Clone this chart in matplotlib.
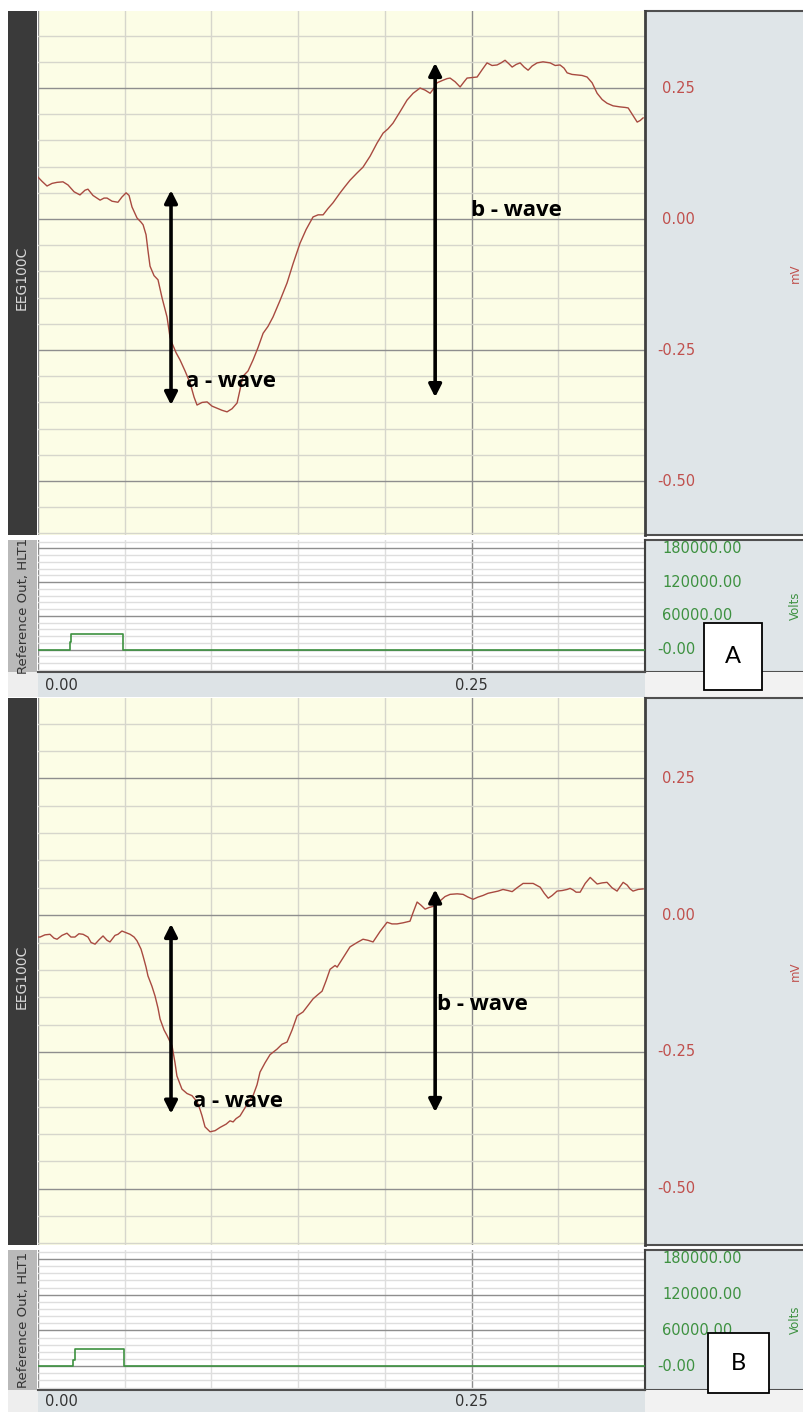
import matplotlib
matplotlib.use("Agg")
import matplotlib.pyplot as plt
from matplotlib.ticker import MultipleLocator, FixedLocator
from matplotlib.patches import Rectangle
from matplotlib.transforms import blended_transform_factory

# ---------------- data (time in ms, ERG in mV, stimulus in arbitrary units) -------------
time_a_ms = [0, 2.3, 5.2, 8.1, 11.0, 14.4, 17.3, 20.8, 24.2, 27.1, 28.8, 31.7, 35.8, 38.1,
             39.8, 42.7, 46.1, 48.4, 50.8, 52.5, 54.2, 57.1, 59.4, 60.6, 62.3, 63.4, 64.6,
             66.9, 69.2, 71.5, 74.4, 76.1, 77.3, 79.6, 81.9, 84.8, 87.7, 90.0, 91.7, 94.6,
             97.5, 100.3, 103.2, 106.1, 109.0, 111.9, 114.8, 116.5, 118.2, 121.1, 124.0,
             126.9, 129.8, 132.6, 135.5, 139.6, 143.6, 147.1, 151.1, 154.6, 158.6, 161.5,
             164.4, 167.2, 170.1, 174.2, 177.0, 179.9, 184.0, 187.4, 191.5, 195.5, 199.0,
             201.8, 204.7, 208.8, 212.8, 216.3, 220.3, 223.2, 226.1, 228.4, 230.1, 233.6,
             235.9, 237.6, 240.5, 243.4, 245.7, 247.4, 250.3, 253.2, 256.1, 258.9, 261.8,
             264.7, 267.0, 269.3, 271.6, 273.4, 275.7, 278.0, 280.3, 282.6, 284.9, 287.8,
             291.2, 295.3, 298.2, 301.0, 303.3, 305.1, 307.9, 310.8, 313.7, 316.6, 319.5,
             322.4, 325.3, 328.1, 331.6, 335.6, 338.5, 340.3, 342.6, 345.5, 347.2, 348.9]
erg_a_mv = [0.080, 0.072, 0.063, 0.068, 0.070, 0.071, 0.065, 0.052, 0.046, 0.055, 0.057,
            0.045, 0.036, 0.040, 0.040, 0.034, 0.032, 0.042, 0.050, 0.045, 0.023, 0.002,
            -0.006, -0.011, -0.030, -0.060, -0.090, -0.108, -0.116, -0.150, -0.187, -0.225,
            -0.237, -0.255, -0.269, -0.290, -0.313, -0.340, -0.355, -0.350, -0.349, -0.357,
            -0.361, -0.365, -0.368, -0.362, -0.351, -0.325, -0.300, -0.290, -0.269, -0.245,
            -0.218, -0.205, -0.187, -0.155, -0.122, -0.085, -0.046, -0.020, 0.004, 0.008,
            0.008, 0.020, 0.031, 0.050, 0.062, 0.074, 0.088, 0.099, 0.120, 0.145, 0.164,
            0.172, 0.183, 0.205, 0.227, 0.240, 0.250, 0.246, 0.240, 0.250, 0.260, 0.265,
            0.268, 0.269, 0.262, 0.252, 0.262, 0.269, 0.270, 0.271, 0.285, 0.298, 0.293,
            0.294, 0.298, 0.303, 0.296, 0.290, 0.295, 0.298, 0.290, 0.284, 0.292, 0.298,
            0.300, 0.298, 0.293, 0.294, 0.288, 0.279, 0.276, 0.275, 0.274, 0.271, 0.260,
            0.240, 0.228, 0.221, 0.216, 0.214, 0.213, 0.212, 0.200, 0.185, 0.188, 0.193]

time_b_ms = [0, 1.2, 4.0, 6.9, 9.2, 11.0, 13.8, 16.7, 19.0, 21.3, 23.6, 26.0, 28.8, 30.6,
             32.9, 35.2, 37.5, 39.8, 41.5, 44.4, 46.1, 48.4, 50.8, 53.1, 55.4, 57.1, 59.4,
             60.6, 62.3, 63.4, 65.7, 67.5, 69.2, 70.4, 72.7, 74.4, 77.3, 79.0, 80.1, 83.0,
             85.9, 88.8, 91.7, 93.4, 94.6, 96.3, 99.2, 102.1, 105.0, 108.5, 110.7, 112.5,
             114.2, 116.5, 119.4, 121.7, 124.0, 126.3, 128.0, 130.9, 133.8, 137.8, 140.7,
             143.6, 146.5, 149.4, 152.8, 155.7, 158.6, 161.5, 163.8, 166.1, 168.4, 171.3,
             172.5, 176.5, 179.9, 184.0, 187.4, 190.3, 193.2, 197.2, 201.3, 204.1, 207.0,
             210.5, 214.5, 216.3, 218.6, 220.9, 223.2, 225.5, 227.8, 230.1, 231.8, 234.7,
             237.6, 241.7, 245.1, 248.0, 250.9, 253.7, 256.6, 259.5, 262.4, 265.3, 268.1,
             271.0, 273.4, 276.2, 279.7, 282.6, 285.5, 287.8, 289.6, 291.9, 294.2, 296.5,
             299.3, 302.2, 305.1, 306.8, 308.6, 310.3, 312.6, 315.5, 318.4, 320.7, 322.4,
             325.3, 328.1, 331.0, 333.9, 335.6, 337.4, 339.7, 341.4, 343.1, 346.0, 348.9]
erg_b_mv = [-0.040, -0.040, -0.036, -0.035, -0.042, -0.044, -0.037, -0.033, -0.040, -0.040,
            -0.034, -0.035, -0.040, -0.050, -0.053, -0.045, -0.038, -0.046, -0.049, -0.037,
            -0.035, -0.029, -0.032, -0.035, -0.040, -0.047, -0.062, -0.075, -0.095, -0.111,
            -0.130, -0.148, -0.170, -0.190, -0.210, -0.220, -0.239, -0.270, -0.294, -0.318,
            -0.326, -0.330, -0.341, -0.355, -0.367, -0.387, -0.396, -0.394, -0.388, -0.382,
            -0.376, -0.378, -0.372, -0.367, -0.352, -0.340, -0.330, -0.310, -0.287, -0.270,
            -0.255, -0.245, -0.236, -0.232, -0.210, -0.184, -0.177, -0.165, -0.153, -0.145,
            -0.139, -0.120, -0.099, -0.092, -0.095, -0.075, -0.058, -0.050, -0.044, -0.046,
            -0.049, -0.030, -0.013, -0.016, -0.016, -0.014, -0.011, 0.005, 0.024, 0.018,
            0.011, 0.014, 0.016, 0.022, 0.026, 0.034, 0.038, 0.039, 0.038, 0.033, 0.029,
            0.033, 0.036, 0.040, 0.042, 0.044, 0.047, 0.045, 0.043, 0.050, 0.058, 0.058,
            0.058, 0.054, 0.051, 0.040, 0.031, 0.036, 0.044, 0.045, 0.047, 0.049, 0.046,
            0.042, 0.042, 0.058, 0.069, 0.062, 0.057, 0.059, 0.060, 0.050, 0.044, 0.052,
            0.060, 0.055, 0.048, 0.044, 0.047, 0.048]

stim_a_ms = [0, 18.5, 19.3, 49.0, 350]
stim_a_val = [0, 14000, 28000, 0, 0]
stim_b_ms = [0, 20.2, 21.3, 49.6, 350]
stim_b_val = [0, 10000, 28000, 0, 0]

erg_ticks = [-0.50, -0.25, 0.00, 0.25]
erg_tick_labels = ["-0.50", "-0.25", "0.00", "0.25"]
stim_ticks = [0, 60000, 120000, 180000]
stim_tick_labels = ["-0.00", "60000.00", "120000.00", "180000.00"]
x_ticks = [0.0, 0.25]
x_tick_labels = ["0.00", "0.25"]
channel_label = "EEG100C"
stim_label = "Reference Out, HLT1"
panel_names = ["A", "B"]

# ---------------- layout helpers -------------
W, H = 804, 1412
fig = plt.figure(figsize=(W / 100, H / 100), dpi=100)
fig.patch.set_facecolor("white")


def frect(x0, y0, x1, y1):
    return [x0 / W, 1 - y1 / H, (x1 - x0) / W, (y1 - y0) / H]


def bg(x0, y0, x1, y1, color, z=-1, ec="none", lw=0):
    fig.patches.append(Rectangle((x0 / W, 1 - y1 / H), (x1 - x0) / W, (y1 - y0) / H,
                                 transform=fig.transFigure, facecolor=color,
                                 edgecolor=ec, linewidth=lw, zorder=z))


def right_labels(axis, ticks, labels, color):
    tr = blended_transform_factory(axis.transAxes, axis.transData)
    for val, lab in zip(ticks, labels):
        off = 12 if lab.startswith("-") else 17
        axis.text(1 + off / 607, val, lab, transform=tr, ha="left", va="center",
                  color=color, fontsize=10.5, clip_on=False, family="DejaVu Sans")


PLOT_BG = "#fcfde6"
RIGHT_BG = "#dfe5e8"
STRIP_BG = "#dde3e6"
LIGHT = "#eeeeee"
RED = "#c0504d"
GREEN = "#3d9140"
TRACE = "#a84a40"
MINOR = "#d6d6cc"
MAJOR = "#8e8e8e"

panels = [
    dict(top=11, mid=535, sub0=540, sub1=672, strip1=697,
         t=time_a_ms, v=erg_a_mv, st=stim_a_ms, sv=stim_a_val,
         a_arrow=(0.0767, 0.055, -0.355), a_text=(0.0854, -0.311),
         b_arrow=(0.229, 0.298, -0.340), b_text=(0.2497, 0.017),
         box=(704, 623, 762, 690)),
    dict(top=698, mid=1245, sub0=1250, sub1=1390, strip1=1412,
         t=time_b_ms, v=erg_b_mv, st=stim_b_ms, sv=stim_b_val,
         a_arrow=(0.0767, -0.016, -0.363), a_text=(0.0894, -0.341),
         b_arrow=(0.229, 0.047, -0.360), b_text=(0.2300, -0.164),
         box=(708, 1333, 769, 1393)),
]

for i, p in enumerate(panels):
    top, mid, s0, s1, st1 = p["top"], p["mid"], p["sub0"], p["sub1"], p["strip1"]

    # background pieces
    bg(8, top, 37, mid, "#3a3a3a")
    bg(645, top, 806, mid, RIGHT_BG, ec="#505050", lw=1.5)
    bg(645, s0, 806, s1, RIGHT_BG, ec="#505050", lw=1.5)
    bg(8, s1, 38, st1, LIGHT)
    bg(38, s1, 645, st1, STRIP_BG)
    bg(645, s1, 806, st1, "#f2f2f2")

    # channel label in dark bar
    fig.text(22 / W, 1 - ((top + mid) / 2 + 5) / H, channel_label, rotation=90,
             ha="center", va="center", color="#d8d8d8", fontsize=10,
             family=["Liberation Sans Narrow", "DejaVu Sans"])

    # stimulus label bar
    axl = fig.add_axes(frect(8, s0, 37, s1))
    axl.set_facecolor("#b9b9b9")
    axl.set_xticks([]); axl.set_yticks([])
    for sp in axl.spines.values():
        sp.set_visible(False)
    axl.text(0.55, 0.5, stim_label, rotation=90, ha="center", va="center",
             transform=axl.transAxes, fontsize=9.5, color="#333333",
             family=["DejaVu Sans"])

    # ------------- main ERG axis -------------
    ax = fig.add_axes(frect(38, top, 645, mid))
    ax.set_facecolor(PLOT_BG)
    ax.plot([t / 1000 for t in p["t"]], p["v"], color=TRACE, lw=1.0, zorder=3)
    ax.set_xlim(0, 0.35)
    ax.set_ylim(-0.603, 0.397)
    ax.xaxis.set_major_locator(FixedLocator(x_ticks))
    ax.xaxis.set_minor_locator(MultipleLocator(0.05))
    ax.yaxis.set_major_locator(FixedLocator(erg_ticks))
    ax.yaxis.set_minor_locator(MultipleLocator(0.05))
    ax.grid(which="minor", color=MINOR, lw=1.0)
    ax.grid(which="major", color=MAJOR, lw=1.0)
    ax.set_axisbelow(True)
    ax.tick_params(axis="both", which="both", length=0, labelbottom=False,
                   labelleft=False, labelright=False)
    for k, sp in ax.spines.items():
        sp.set_visible(k == "right")
    ax.spines["right"].set_color("#404040")
    ax.spines["right"].set_linewidth(2)
    right_labels(ax, erg_ticks, erg_tick_labels, RED)
    # unit label near the page edge
    ax.text(1.248, 0.5, "mV", rotation=90, transform=ax.transAxes, ha="center",
            va="center", color=RED, fontsize=8.5, clip_on=False)

    # arrows and wave labels
    for key_arrow, key_text, label in (("a_arrow", "a_text", "a - wave"),
                                       ("b_arrow", "b_text", "b - wave")):
        xa, y_top, y_bot = p[key_arrow]
        ax.annotate("", xy=(xa, y_top), xytext=(xa, y_bot),
                    arrowprops=dict(arrowstyle="<|-|>,head_length=0.75,head_width=0.38",
                                    color="black", lw=2.6, shrinkA=0, shrinkB=0),
                    zorder=5)
        xt, yt = p[key_text]
        ax.text(xt, yt, label, ha="left", va="center", fontsize=16,
                fontweight="bold", color="black",
                family=["Open Sans", "DejaVu Sans"], zorder=6)

    # ------------- stimulus axis -------------
    axs = fig.add_axes(frect(38, s0, 645, s1))
    axs.set_facecolor("white")
    axs.plot([t / 1000 for t in p["st"]], p["sv"], drawstyle="steps-post",
             color=GREEN, lw=1.2, zorder=3)
    axs.set_xlim(0, 0.35)
    axs.set_ylim(-40000, 195000)
    axs.xaxis.set_major_locator(FixedLocator(x_ticks))
    axs.xaxis.set_minor_locator(MultipleLocator(0.05))
    axs.yaxis.set_major_locator(FixedLocator(stim_ticks))
    axs.yaxis.set_minor_locator(MultipleLocator(12000))
    axs.grid(which="minor", color="#dedede", lw=1.0)
    axs.grid(which="major", color=MAJOR, lw=1.0)
    axs.set_axisbelow(True)
    axs.tick_params(axis="both", which="both", length=0, labelbottom=False,
                    labelleft=False, labelright=False)
    for k, sp in axs.spines.items():
        sp.set_visible(k in ("right", "bottom"))
    axs.spines["right"].set_color("#404040")
    axs.spines["bottom"].set_color("#505050")
    axs.spines["right"].set_linewidth(1.5)
    axs.spines["bottom"].set_linewidth(1.5)
    right_labels(axs, stim_ticks, stim_tick_labels, GREEN)
    axs.text(1.248, 0.5, "Volts", rotation=90, transform=axs.transAxes, ha="center",
             va="center", color=GREEN, fontsize=8.5, clip_on=False)

    # x tick labels in the strip
    strip_y = 1 - (s1 + (st1 - s1) / 2 + 1) / H
    for xv, lab in zip(x_ticks, x_tick_labels):
        xfig = (38 + (645 - 38) * xv / 0.35) / W
        fig.text(xfig + (7 / W if xv == 0 else 0), strip_y, lab,
                 ha="left" if xv == 0 else "center", va="center",
                 color="#333333", fontsize=10.5)

    # panel letter box
    bx0, by0, bx1, by1 = p["box"]
    bg(bx0, by0, bx1, by1, "white", z=10, ec="black", lw=1.3)
    fig.text((bx0 + bx1) / 2 / W, 1 - ((by0 + by1) / 2) / H, panel_names[i],
             ha="center", va="center", fontsize=17, color="black", zorder=11,
             family=["Lato", "DejaVu Sans"])

fig.savefig("out.png", dpi=100, facecolor="white")
